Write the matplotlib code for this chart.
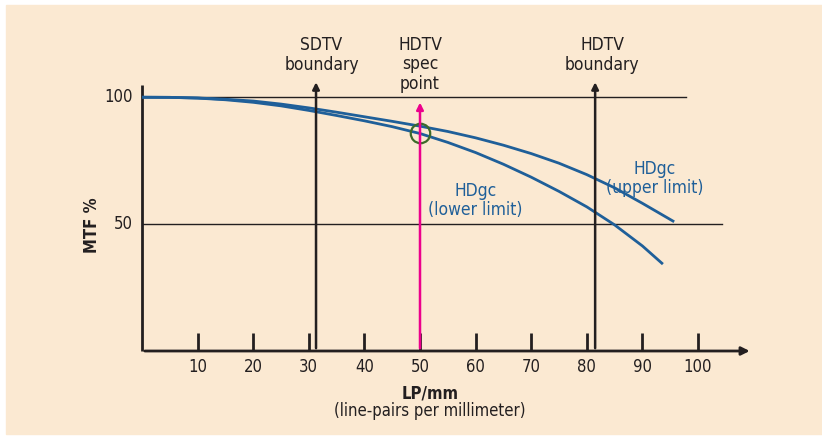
import matplotlib.pyplot as plt
from matplotlib.patches import Rectangle

# MTF curves (LP/mm, MTF %)
upper_x = [0, 5, 10, 15, 20, 25, 30, 35, 40, 45, 50, 55, 60, 65, 70, 75, 80, 85, 90, 95.5]
upper_y = [100, 99.95, 99.7, 99.2, 98.5, 97.3, 95.8, 94.1, 92.3, 90.5, 88.6, 86.5, 84.0, 81.1, 77.8, 74.0, 69.5, 64.3, 58.2, 51.2]
lower_x = [0, 5, 10, 15, 20, 25, 30, 35, 40, 45, 50, 55, 60, 65, 70, 75, 80, 85, 90, 93.5]
lower_y = [100, 99.95, 99.65, 99.0, 98.0, 96.6, 94.8, 92.8, 90.7, 88.4, 85.7, 82.2, 78.2, 73.6, 68.5, 62.9, 56.8, 49.7, 41.4, 34.6]

x_ticks = [10, 20, 30, 40, 50, 60, 70, 80, 90, 100]
y_ticks = [100, 50]
sdtv_x = 31.3
hdtv_x = 81.5
spec_x = 50
spec_y = 86.0

bg = '#fbe9d2'
blue = '#1f5f99'
ink = '#231f20'
pink = '#ec008c'
plt.rcParams['font.family'] = ['DejaVu Sans']
plt.rcParams['font.stretch'] = 'condensed'

fig = plt.figure(figsize=(8.22, 4.36), dpi=100)
fig.patches.append(Rectangle((6 / 822, 2 / 436), 816 / 822, 429 / 436,
                             transform=fig.transFigure, color=bg, zorder=-10))
ax = fig.add_axes([142 / 822, 85 / 436, 611.6 / 822, 269 / 436])
ax.set_xlim(0, 110)
ax.set_ylim(0, 106)
ax.axis('off')

# reference lines at 100 and 50
ax.plot([0, 97.8], [100, 100], color=ink, lw=1)
ax.plot([0, 104.3], [50, 50], color=ink, lw=1)

# axes
ax.plot([0, 0], [0, 104.7], color=ink, lw=2, solid_capstyle='butt', clip_on=False)
ax.annotate('', xy=(109.8, 0), xytext=(0, 0), annotation_clip=False,
            arrowprops=dict(arrowstyle='-|>', color=ink, lw=2, mutation_scale=12))
for t in x_ticks:
    ax.plot([t, t], [0, 7.1], color=ink, lw=2, solid_capstyle='butt')
    ax.text(t, -6.5, str(t), ha='center', va='center', fontsize=12, color=ink)
for t in y_ticks:
    ax.text(-1.6, t, str(t), ha='right', va='center', fontsize=12, color=ink)

# boundary arrows
ax.annotate('', xy=(sdtv_x, 107), xytext=(sdtv_x, 0), annotation_clip=False,
            arrowprops=dict(arrowstyle='-|>', color=ink, lw=1.8, mutation_scale=10))
ax.annotate('', xy=(hdtv_x, 107), xytext=(hdtv_x, 0), annotation_clip=False,
            arrowprops=dict(arrowstyle='-|>', color=ink, lw=1.8, mutation_scale=10))
ax.annotate('', xy=(spec_x, 99), xytext=(spec_x, 0), annotation_clip=False,
            arrowprops=dict(arrowstyle='-|>', color=pink, lw=1.8, mutation_scale=10))

# curves
ax.plot(upper_x, upper_y, color=blue, lw=2, solid_joinstyle='round')
ax.plot(lower_x, lower_y, color=blue, lw=2, solid_joinstyle='round')
ax.plot([spec_x], [spec_y], marker='o', ms=14, mfc='none', mec='#3d6b2a', mew=1.6)

# labels
ax.text(32.3, 109.3, 'SDTV\nboundary', ha='center', va='bottom', fontsize=12.5,
        color=ink, linespacing=1.12, clip_on=False)
ax.text(50, 101.6, 'HDTV\nspec\npoint', ha='center', va='bottom', fontsize=12.5,
        color=ink, linespacing=1.12, clip_on=False)
ax.text(82.8, 109.3, 'HDTV\nboundary', ha='center', va='bottom', fontsize=12.5,
        color=ink, linespacing=1.12, clip_on=False)
ax.text(92.2, 68.0, 'HDgc\n(upper limit)', ha='center', va='center', fontsize=12.5,
        color=blue, linespacing=1.05)
ax.text(60, 59.2, 'HDgc\n(lower limit)', ha='center', va='center', fontsize=12.5,
        color=blue, linespacing=1.05)

fig.text(92 / 822, 1 - 225 / 436, 'MTF %', rotation=90, ha='center', va='center',
         fontsize=12, fontweight='bold', color=ink)
fig.text(430 / 822, 1 - 393 / 436, 'LP/mm', ha='center', va='center',
         fontsize=12, fontweight='bold', color=ink)
fig.text(430 / 822, 1 - 411 / 436, '(line-pairs per millimeter)', ha='center', va='center',
         fontsize=12, color=ink)

fig.savefig('out.png', dpi=100, facecolor='white')
